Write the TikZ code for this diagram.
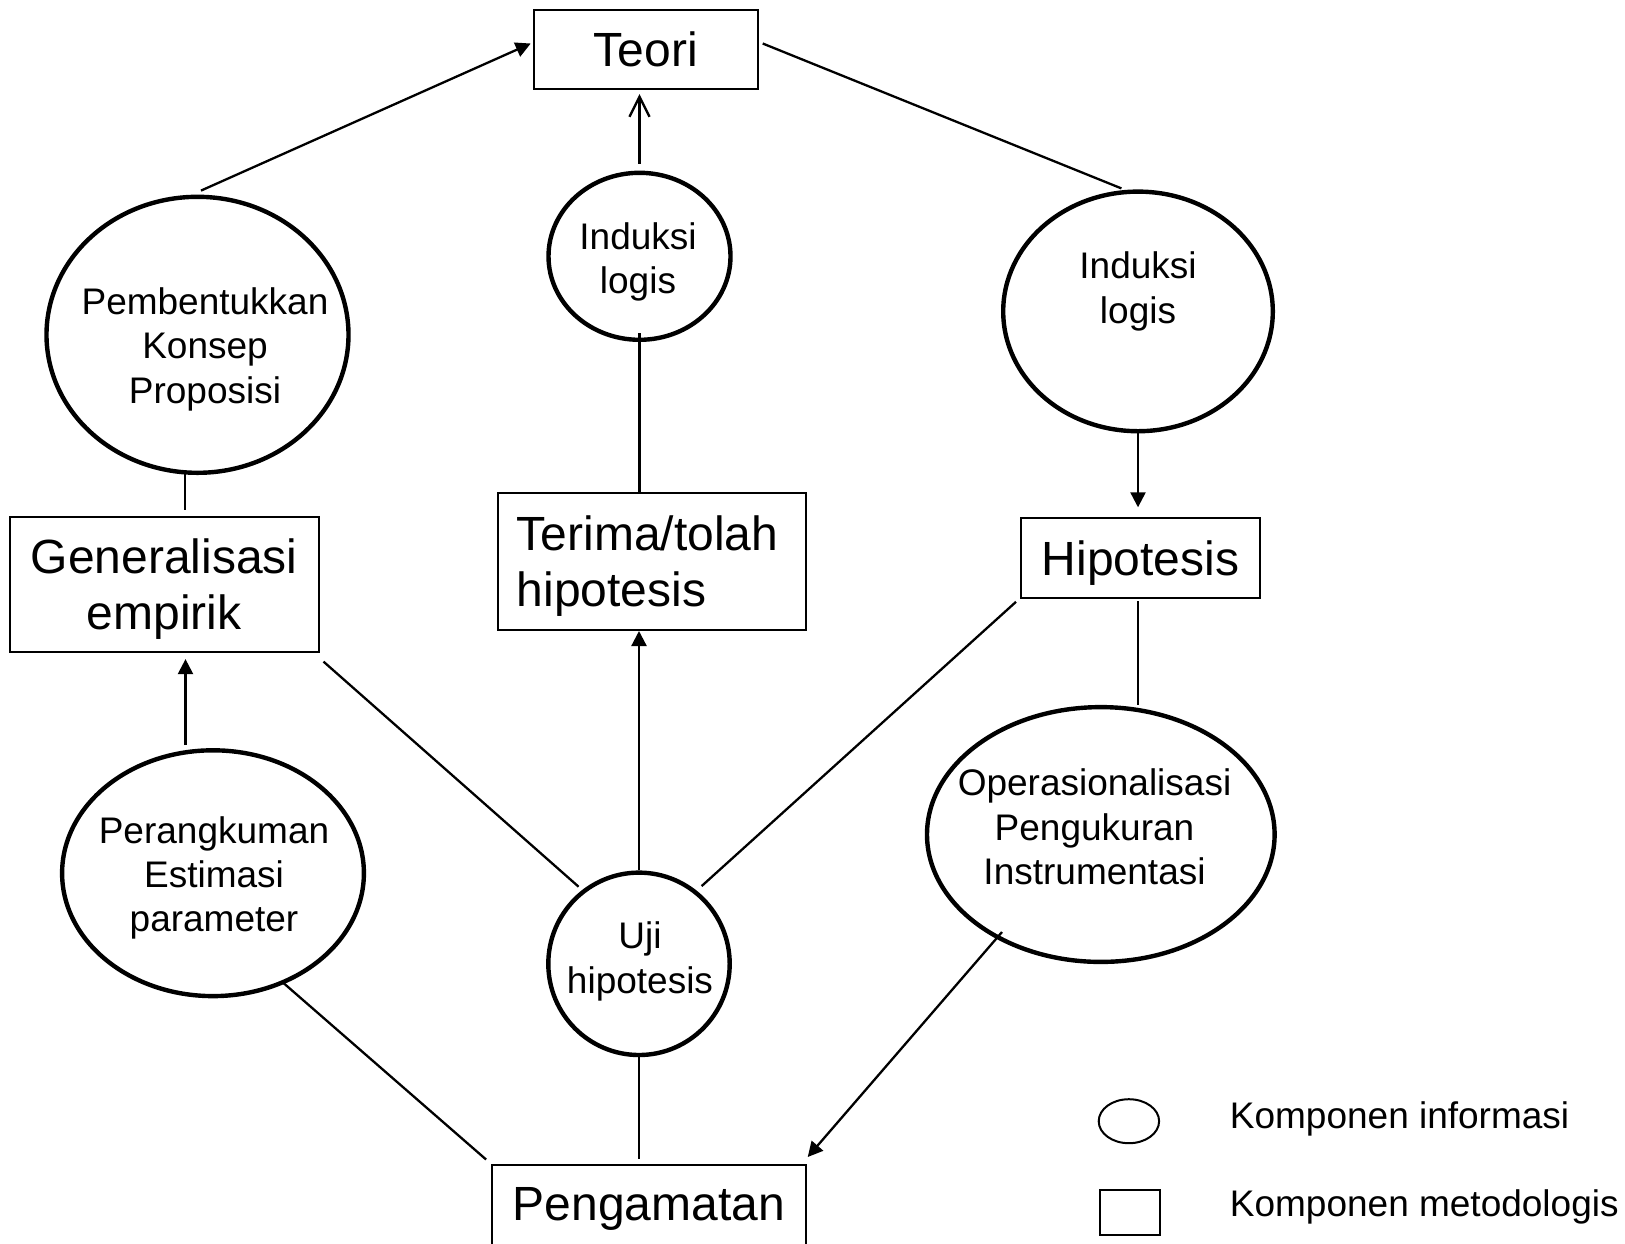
\documentclass[tikz,border=0pt]{standalone}
\usepackage{fontspec}
\setmainfont{Liberation Sans}
\usetikzlibrary{shapes.geometric,arrows.meta,calc}
\newcommand{\mytopstrut}{\rule{0pt}{22pt}}
\begin{document}
\begin{tikzpicture}[x=0.5pt,y=-0.5pt,
  box/.style={draw,line width=1pt,rectangle,inner sep=0pt},
  infoell/.style={draw,line width=2.2pt,ellipse,inner sep=0pt},
  bigtxt/.style={font=\fontsize{24pt}{28pt}\selectfont,align=center},
  smalltxt/.style={font=\fontsize{18.5pt}{22.2pt}\selectfont,align=center,inner sep=0pt},
  conn/.style={line width=1.15pt},
  arr/.style={conn,-{Triangle[length=7.5pt,width=7.5pt]}},
  openarr/.style={conn,-{Straight Barb[length=10pt,width=10pt]}}
]
\useasboundingbox (0,0) rectangle (1625,1243);

% boxes (komponen metodologis)
\node[box,bigtxt,minimum width=112pt,minimum height=39.4pt] (teori) at (645.7,49.8) {Teori};
\node[box,bigtxt,minimum width=154.2pt,minimum height=67.5pt] (gen) at (164.3,584.6) {\mytopstrut Generalisasi\\empirik};
\node[box,font=\fontsize{24pt}{28pt}\selectfont,align=left,text width=135pt,inner xsep=9.6pt,inner ysep=0pt,minimum height=68.3pt] (terima) at (651.9,561.7) {\mytopstrut Terima/tolah\\hipotesis};
\node[box,bigtxt,minimum width=119.5pt,minimum height=40pt] (hip) at (1140.5,558.3) {\mytopstrut Hipotesis};
\node[box,bigtxt,minimum width=157pt,minimum height=43.5pt] (peng) at (648.7,1208.5) {Pengamatan};

% ellipses (komponen informasi)
\node[infoell,minimum width=151pt,minimum height=138pt] (e1) at (197.5,334.8) {};
\node[smalltxt] (t1) at (205,349.3) {Pembentukkan\\Konsep\\Proposisi};
\node[infoell,minimum width=91pt,minimum height=83.5pt] (e2) at (639.5,256.3) {};
\node[smalltxt] (t2) at (638,262) {Induksi\\logis};
\node[infoell,minimum width=134.8pt,minimum height=119.8pt] (e3) at (1138,311.4) {};
\node[smalltxt] (t3) at (1138,291.3) {Induksi\\logis};
\node[infoell,minimum width=150.9pt,minimum height=122.9pt] (e4) at (213,873.2) {};
\node[smalltxt] (t4) at (214,877.9) {Perangkuman\\Estimasi\\parameter};
\node[infoell,minimum width=90.7pt,minimum height=91.2pt] (uji) at (639,963.8) {};
\node[smalltxt] (t5) at (640,961.3) {Uji\\hipotesis};
\node[infoell,minimum width=173.8pt,minimum height=127.4pt] (e6) at (1100.8,834.5) {};
\node[smalltxt] (t6) at (1094.5,826.8) {Operasionalisasi\\Pengukuran\\Instrumentasi};

% legend
\node[draw,line width=1pt,ellipse,inner sep=0pt,minimum width=30.2pt,minimum height=22pt] (leg1) at (1128.9,1121.2) {};
\node[draw,line width=1pt,rectangle,inner sep=0pt,minimum width=30.2pt,minimum height=22.5pt] (leg2) at (1129.8,1212.5) {};
\node[smalltxt,anchor=base west] (leg1t) at (1229.5,1128) {Komponen informasi};
\node[smalltxt,anchor=base west] (leg2t) at (1229.5,1216) {Komponen metodologis};

% connectors
\draw[arr] ($(e1.north)+(3.5,-4)$) -- ($(teori.west)+(-2,-6.3)$);
\draw[conn] ($(teori.east)+(4,-6.3)$) -- ($(e3.north)+(-16.6,-1)$);
\draw[openarr] ($(e2.north)+(0,-7)$) -- ($(teori.south)+(-6.2,4)$);
\draw[conn] ($(e2.south)+(0,-9)$) -- ($(terima.north)+(-12.4,0)$);
\draw[arr] (e3.south) -- ($(hip.north)+(-2.5,-10)$);
\coordinate (h1) at ($(hip.south)+(-2.5,2)$);
\draw[conn] (h1) -- (h1 |- e6.north);
\draw[conn] ($(hip.south west)+(-4,2.5)$) -- ($(uji.center)+(62.6,-77.7)$);
\draw[conn] ($(gen.south east)+(4,8.5)$) -- ($(uji.center)+(-60.4,-77.1)$);
\coordinate (p1) at ($(e4.north)+(-27.5,-3)$);
\draw[arr,shorten >=3pt] (p1) -- (p1 |- gen.south);
\coordinate (p2) at ($(e1.south)+(-12.5,-5)$);
\draw[conn,shorten >=3pt] (p2) -- (p2 |- gen.north);
\draw[conn] ($(e4.center)+(69.9,109.3)$) -- ($(peng.north west)+(-4.6,-4.5)$);
\coordinate (p3) at (uji.south);
\draw[conn,shorten >=2.5pt] (p3) -- (p3 |- peng.north);
\coordinate (p4) at (uji.north);
\draw[arr] (p4) -- (p4 |- terima.south);
\draw[arr] ($(e6.center)+(-98.8,97.5)$) -- ($(peng.north east)+(1,-7)$);
\end{tikzpicture}
\end{document}
